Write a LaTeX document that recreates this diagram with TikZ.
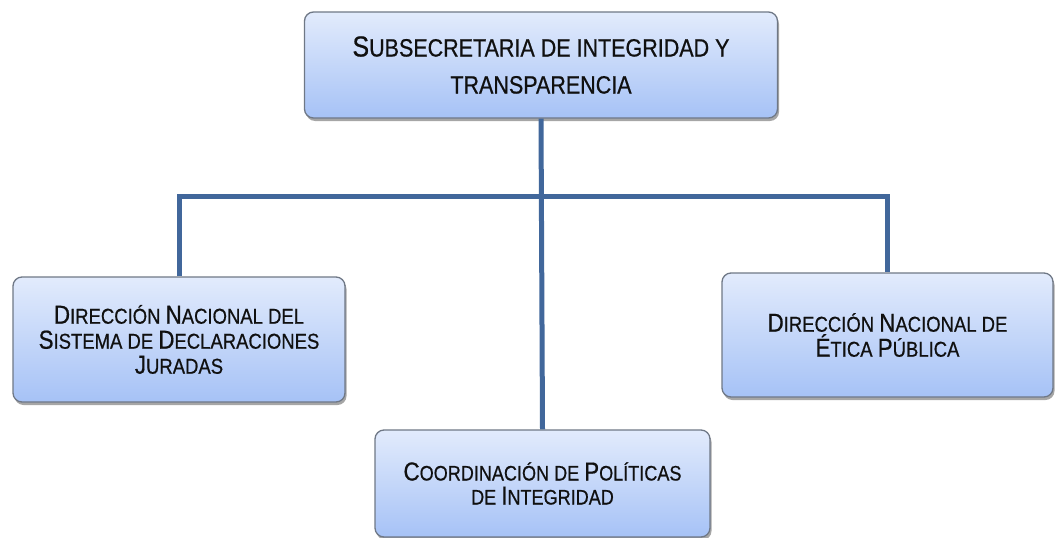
\documentclass[tikz,border=0pt]{standalone}
\usepackage{fontspec}
\setmainfont{Liberation Sans}[FakeStretch=0.86,FakeBold=0.6]
\usetikzlibrary{shadows}
\definecolor{boxtop}{HTML}{E2EBFC}
\definecolor{boxbot}{HTML}{A6C2F6}
\definecolor{boxborder}{HTML}{6F7886}
\definecolor{linecol}{HTML}{41679B}
\definecolor{txt}{HTML}{101010}
\newcommand\Cap[2][26]{{\fontsize{#1}{#1}\selectfont #2}}
\tikzset{
  orgbox/.style={draw=boxborder, line width=1.3pt, rounded corners=9pt,
    top color=boxtop, bottom color=boxbot,
    drop shadow={shadow xshift=1.5pt, shadow yshift=-3pt, opacity=0.35, fill=black},
    align=center, inner sep=0pt, text=txt},
  conn/.style={draw=linecol, line width=5pt, line join=miter}
}
\begin{document}
\begin{tikzpicture}[x=1pt,y=-1pt]
\useasboundingbox (0,0) rectangle (1055,538);
\node[orgbox, minimum width=473pt, minimum height=106pt, font=\fontsize{25}{37}\selectfont] (top) at (541,65)
  {\Cap[29]{S}UBSECRETARIA DE INTEGRIDAD Y\\TRANSPARENCIA};
\node[orgbox, minimum width=332pt, minimum height=125pt, font=\fontsize{21.5}{25}\selectfont] (left) at (179,339.5)
  {\Cap{D}IRECCIÓN \Cap{N}ACIONAL DEL\\\Cap{S}ISTEMA DE \Cap{D}ECLARACIONES\\\Cap{J}URADAS};
\node[orgbox, minimum width=331pt, minimum height=124pt, font=\fontsize{21.5}{25}\selectfont] (right) at (887.5,335)
  {\Cap[26]{D}IRECCIÓN \Cap[26]{N}ACIONAL DE\\\Cap[26]{É}TICA \Cap[26]{P}ÚBLICA};
\node[orgbox, minimum width=335pt, minimum height=107pt, font=\fontsize{21}{24}\selectfont] (bot) at (542.5,483.5)
  {\Cap{C}OORDINACIÓN DE \Cap{P}OLÍTICAS\\DE \Cap{I}NTEGRIDAD};
\coordinate (bar) at (541,196);
\draw[conn] (top.south) -- (bot.north);
\draw[conn] (left.north) -- (left.north |- bar) -- (right.north |- bar) -- (right.north);
\end{tikzpicture}
\end{document}
